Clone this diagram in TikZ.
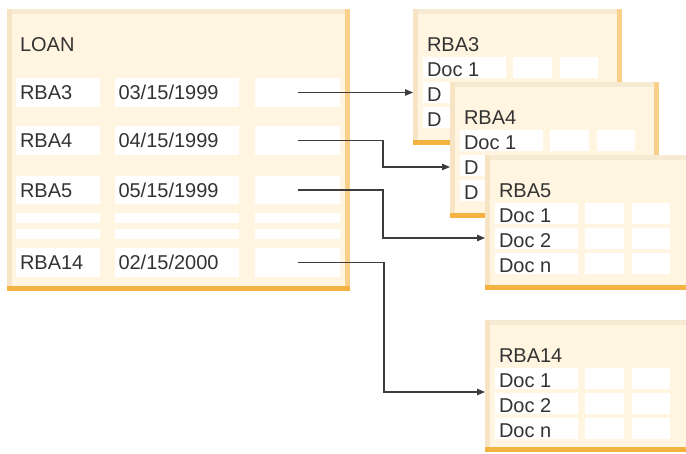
\documentclass[tikz,border=0pt]{standalone}
\usepackage{fontspec}
\setmainfont{Liberation Sans}
\usetikzlibrary{arrows.meta}
\definecolor{cream}{HTML}{FFF5E1}
\definecolor{bevleft}{HTML}{F6E4C4}
\definecolor{bevtop}{HTML}{F7EAD3}
\definecolor{bevright}{HTML}{F8D08C}
\definecolor{bevbottom}{HTML}{F4B340}
\definecolor{txt}{HTML}{333333}
\definecolor{wire}{HTML}{3C3C3C}
\tikzset{
  panel/.style={draw=none, fill=cream, inner sep=0pt, outer sep=0pt, anchor=north west},
  cell/.style={draw=none, fill=white, inner sep=0pt, outer sep=0pt, anchor=north west},
  lbl/.style={anchor=base west, inner sep=0pt, outer sep=0pt, text=txt, font=\fontsize{20}{24}\selectfont},
  wirearrow/.style={draw=wire, line width=1.2pt, -{Triangle[length=8pt,width=6.5pt]}},
}
% name, L, T, W, H
\newcommand\panelbox[5]{%
  \node[panel, minimum width=#4pt, minimum height=#5pt] (#1) at (#2,#3) {};
  \fill[bevtop] (#1.north west) rectangle ([yshift=-5pt]#1.north east);
  \fill[bevleft] (#1.north west) rectangle ([xshift=5pt]#1.south west);
  \fill[bevright] ([xshift=-5pt]#1.north east) rectangle (#1.south east);
  \fill[bevbottom] ([yshift=5pt]#1.south west) rectangle (#1.south east);
}
% name, x1, y1, x2, y2
\newcommand\cellbox[5]{%
  \node[cell, minimum width={((#4)-(#2))*1pt}, minimum height={((#5)-(#3))*1pt}] (#1) at ({#2},{#3}) {};
}
% name, L, T, H, title, r1, r2, r3
\newcommand\docbox[8]{%
  \panelbox{#1}{#2}{#3}{209}{#4}
  \node[lbl] (#1-t) at ({#2+14},{#3+43}) {#5};
  \cellbox{#1-a1}{#2+10}{#3+48}{#2+93}{#3+69}
  \cellbox{#1-a2}{#2+100}{#3+48}{#2+139}{#3+69}
  \cellbox{#1-a3}{#2+147}{#3+48}{#2+185}{#3+69}
  \cellbox{#1-b1}{#2+10}{#3+73}{#2+93}{#3+94}
  \cellbox{#1-b2}{#2+100}{#3+73}{#2+139}{#3+94}
  \cellbox{#1-b3}{#2+147}{#3+73}{#2+185}{#3+94}
  \cellbox{#1-c1}{#2+10}{#3+98}{#2+93}{#3+119}
  \cellbox{#1-c2}{#2+100}{#3+98}{#2+139}{#3+119}
  \cellbox{#1-c3}{#2+147}{#3+98}{#2+185}{#3+119}
  \node[lbl] (#1-r1) at ({#2+14},{#3+68}) {#6};
  \node[lbl] (#1-r2) at ({#2+14},{#3+93}) {#7};
  \node[lbl] (#1-r3) at ({#2+14},{#3+118}) {#8};
}
\begin{document}
\begin{tikzpicture}[x=1pt,y=-1pt]
\useasboundingbox (0,0) rectangle (686,454);
\fill[white] (0,0) rectangle (686,454);
% LOAN panel
\panelbox{loan}{7}{9}{343}{282}
\node[lbl] (loant) at (20,52) {LOAN};
\cellbox{l3a}{16}{78}{100}{107}
\cellbox{l3b}{115}{78}{239}{107}
\cellbox{l3c}{255}{78}{340}{107}
\cellbox{l4a}{16}{126}{100}{155}
\cellbox{l4b}{115}{126}{239}{155}
\cellbox{l4c}{255}{126}{340}{155}
\cellbox{l5a}{16}{176}{100}{204}
\cellbox{l5b}{115}{176}{239}{204}
\cellbox{l5c}{255}{176}{340}{204}
\cellbox{lxa}{16}{213}{100}{223}
\cellbox{lxb}{115}{213}{239}{223}
\cellbox{lxc}{255}{213}{340}{223}
\cellbox{lya}{16}{229}{100}{239}
\cellbox{lyb}{115}{229}{239}{239}
\cellbox{lyc}{255}{229}{340}{239}
\cellbox{l14a}{16}{248}{100}{277}
\cellbox{l14b}{115}{248}{239}{277}
\cellbox{l14c}{255}{248}{340}{277}
\node[lbl] (t3a) at (20,99.8) {RBA3};
\node[lbl] (t3b) at (118.5,99.8) {03/15/1999};
\node[lbl] (t4a) at (20,147.8) {RBA4};
\node[lbl] (t4b) at (118.5,147.8) {04/15/1999};
\node[lbl] (t5a) at (20,197.3) {RBA5};
\node[lbl] (t5b) at (118.5,197.3) {05/15/1999};
\node[lbl] (t14a) at (20,269.8) {RBA14};
\node[lbl] (t14b) at (118.5,269.8) {02/15/2000};
% document panels
\docbox{rba3}{413}{9}{136}{RBA3}{Doc 1}{D}{D}
\docbox{rba4}{450}{82}{136}{RBA4}{Doc 1}{D}{D}
\docbox{rba5}{485}{155}{135}{RBA5}{Doc 1}{Doc 2}{Doc n}
\docbox{rba14}{485}{320}{132}{RBA14}{Doc 1}{Doc 2}{Doc n}
% connectors
\coordinate (k2) at (383,167);
\coordinate (k3) at (383,238);
\coordinate (k4) at (384,392);
\draw[wirearrow] (l3c.center) -- (l3c.center -| rba3.west);
\draw[wirearrow] (l4c.center) -| (k2) -- (k2 -| rba4.west);
\draw[wirearrow] (l5c.center) -| (k3) -- (k3 -| rba5.west);
\draw[wirearrow] (l14c.center) -| (k4) -- (k4 -| rba14.west);
\end{tikzpicture}
\end{document}
